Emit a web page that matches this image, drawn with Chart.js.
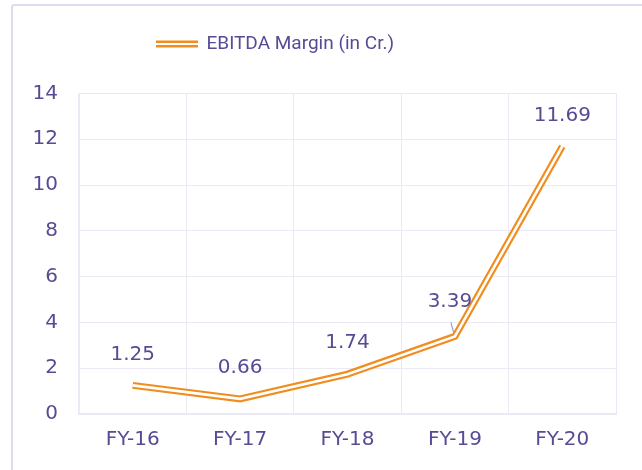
<!DOCTYPE html>
<html lang="en">
<head>
  <meta charset="UTF-8" />
  <title>EBITDA Margin</title>
  <script src="https://cdn.jsdelivr.net/npm/chart.js"></script>
  <style>
    body {
      margin: 0;
      background: #fff;
    }
    .wrap {
      position: relative;
      width: 642px;
      height: 470px;
      overflow: hidden;
    }
    .frame {
      position: absolute;
      left: 11px;
      top: 4px;
      width: 700px;
      height: 600px;
      border: 2px solid #dddbee;
      border-radius: 3px;
    }
    canvas {
      position: absolute;
      left: 0;
      top: 0;
    }
  </style>
</head>
<body>
  <div class="wrap">
    <div class="frame"></div>
    <canvas id="ebitdaChart" width="642" height="470"></canvas>
  </div>
  <script>
const years = ['FY-16', 'FY-17', 'FY-18', 'FY-19', 'FY-20'];
const ebitda = [1.25, 0.66, 1.74, 3.39, 11.69];
const yTicks = [0, 2, 4, 6, 8, 10, 12, 14];

const textColor = '#564c94';
const gridColor = '#ebe9f3';
const orange = '#f18d1f';
const font = 'DejaVu Sans';

// legend symbol: two thin orange lines
const legendMark = document.createElement('canvas');
legendMark.width = 42;
legendMark.height = 8;
const lm = legendMark.getContext('2d');
lm.fillStyle = orange;
lm.fillRect(0, 0.5, 42, 2.5);
lm.fillRect(0, 5, 42, 2.5);

const valueLabels = {
  id: 'valueLabels',
  afterDatasetsDraw(chart) {
    const meta = chart.getDatasetMeta(1);
    const ctx = chart.ctx;
    ctx.save();
    ctx.font = '20px "' + font + '"';
    ctx.fillStyle = textColor;
    ctx.textAlign = 'center';
    ctx.textBaseline = 'middle';
    meta.data.forEach((pt, i) => {
      let dx = 0, dy = 31;
      if (i === 3) {
        dx = -5; dy = 35;
        // small leader line
        ctx.strokeStyle = '#a19cc9';
        ctx.lineWidth = 1.2;
        ctx.beginPath();
        ctx.moveTo(pt.x - 4, pt.y - 14);
        ctx.lineTo(pt.x - 1, pt.y - 3);
        ctx.stroke();
      }
      ctx.fillText(ebitda[i].toFixed(2), pt.x + dx, pt.y - dy);
    });
    ctx.restore();
  }
};

// put the legend where the original has it (left of centre, higher up)
const placeLegend = {
  id: 'placeLegend',
  afterLayout(chart) {
    const lg = chart.legend;
    const w = lg.right - lg.left;
    const pad = lg.options.labels.padding;
    const mid = 157 + (lg.lineWidths[0] - pad) / 2;
    lg.left = mid - w / 2;
    lg.right = mid + w / 2;
    lg.top -= 30;
    lg.bottom -= 30;
  }
};

new Chart(document.getElementById('ebitdaChart'), {
  type: 'line',
  data: {
    labels: years,
    datasets: [
      {
        label: 'inner',
        data: ebitda,
        borderColor: '#ffffff',
        borderWidth: 2.6,
        pointRadius: 0,
        tension: 0
      },
      {
        label: 'EBITDA Margin (in Cr.)',
        data: ebitda,
        borderColor: orange,
        backgroundColor: orange,
        borderWidth: 7,
        pointRadius: 0,
        pointStyle: legendMark,
        tension: 0
      }
    ]
  },
  options: {
    responsive: false,
    animation: false,
    layout: {
      padding: { left: 12, right: 26, top: 31, bottom: 0 }
    },
    scales: {
      x: {
        offset: true,
        grid: { color: gridColor, offset: true, drawTicks: false },
        border: { color: gridColor, width: 2 },
        ticks: {
          color: textColor,
          padding: 14,
          font: { family: font, size: 20 }
        },
        afterFit(scale) { scale.height = 56; }
      },
      y: {
        min: 0,
        max: 14,
        grid: { color: gridColor, drawTicks: false },
        border: { color: gridColor },
        afterBuildTicks(scale) {
          scale.ticks = yTicks.map(v => ({ value: v }));
        },
        ticks: {
          color: textColor,
          padding: 21,
          font: { family: font, size: 20 }
        },
        afterFit(scale) { scale.width = 67; }
      }
    },
    plugins: {
      legend: {
        position: 'top',
        labels: {
          filter: item => item.datasetIndex === 1,
          usePointStyle: true,
          pointStyleWidth: 40,
          color: textColor,
          padding: 33.5,
          font: { family: 'Roboto', size: 19 }
        }
      },
      tooltip: { enabled: false }
    }
  },
  plugins: [valueLabels, placeLegend]
});
  </script>
</body>
</html>
